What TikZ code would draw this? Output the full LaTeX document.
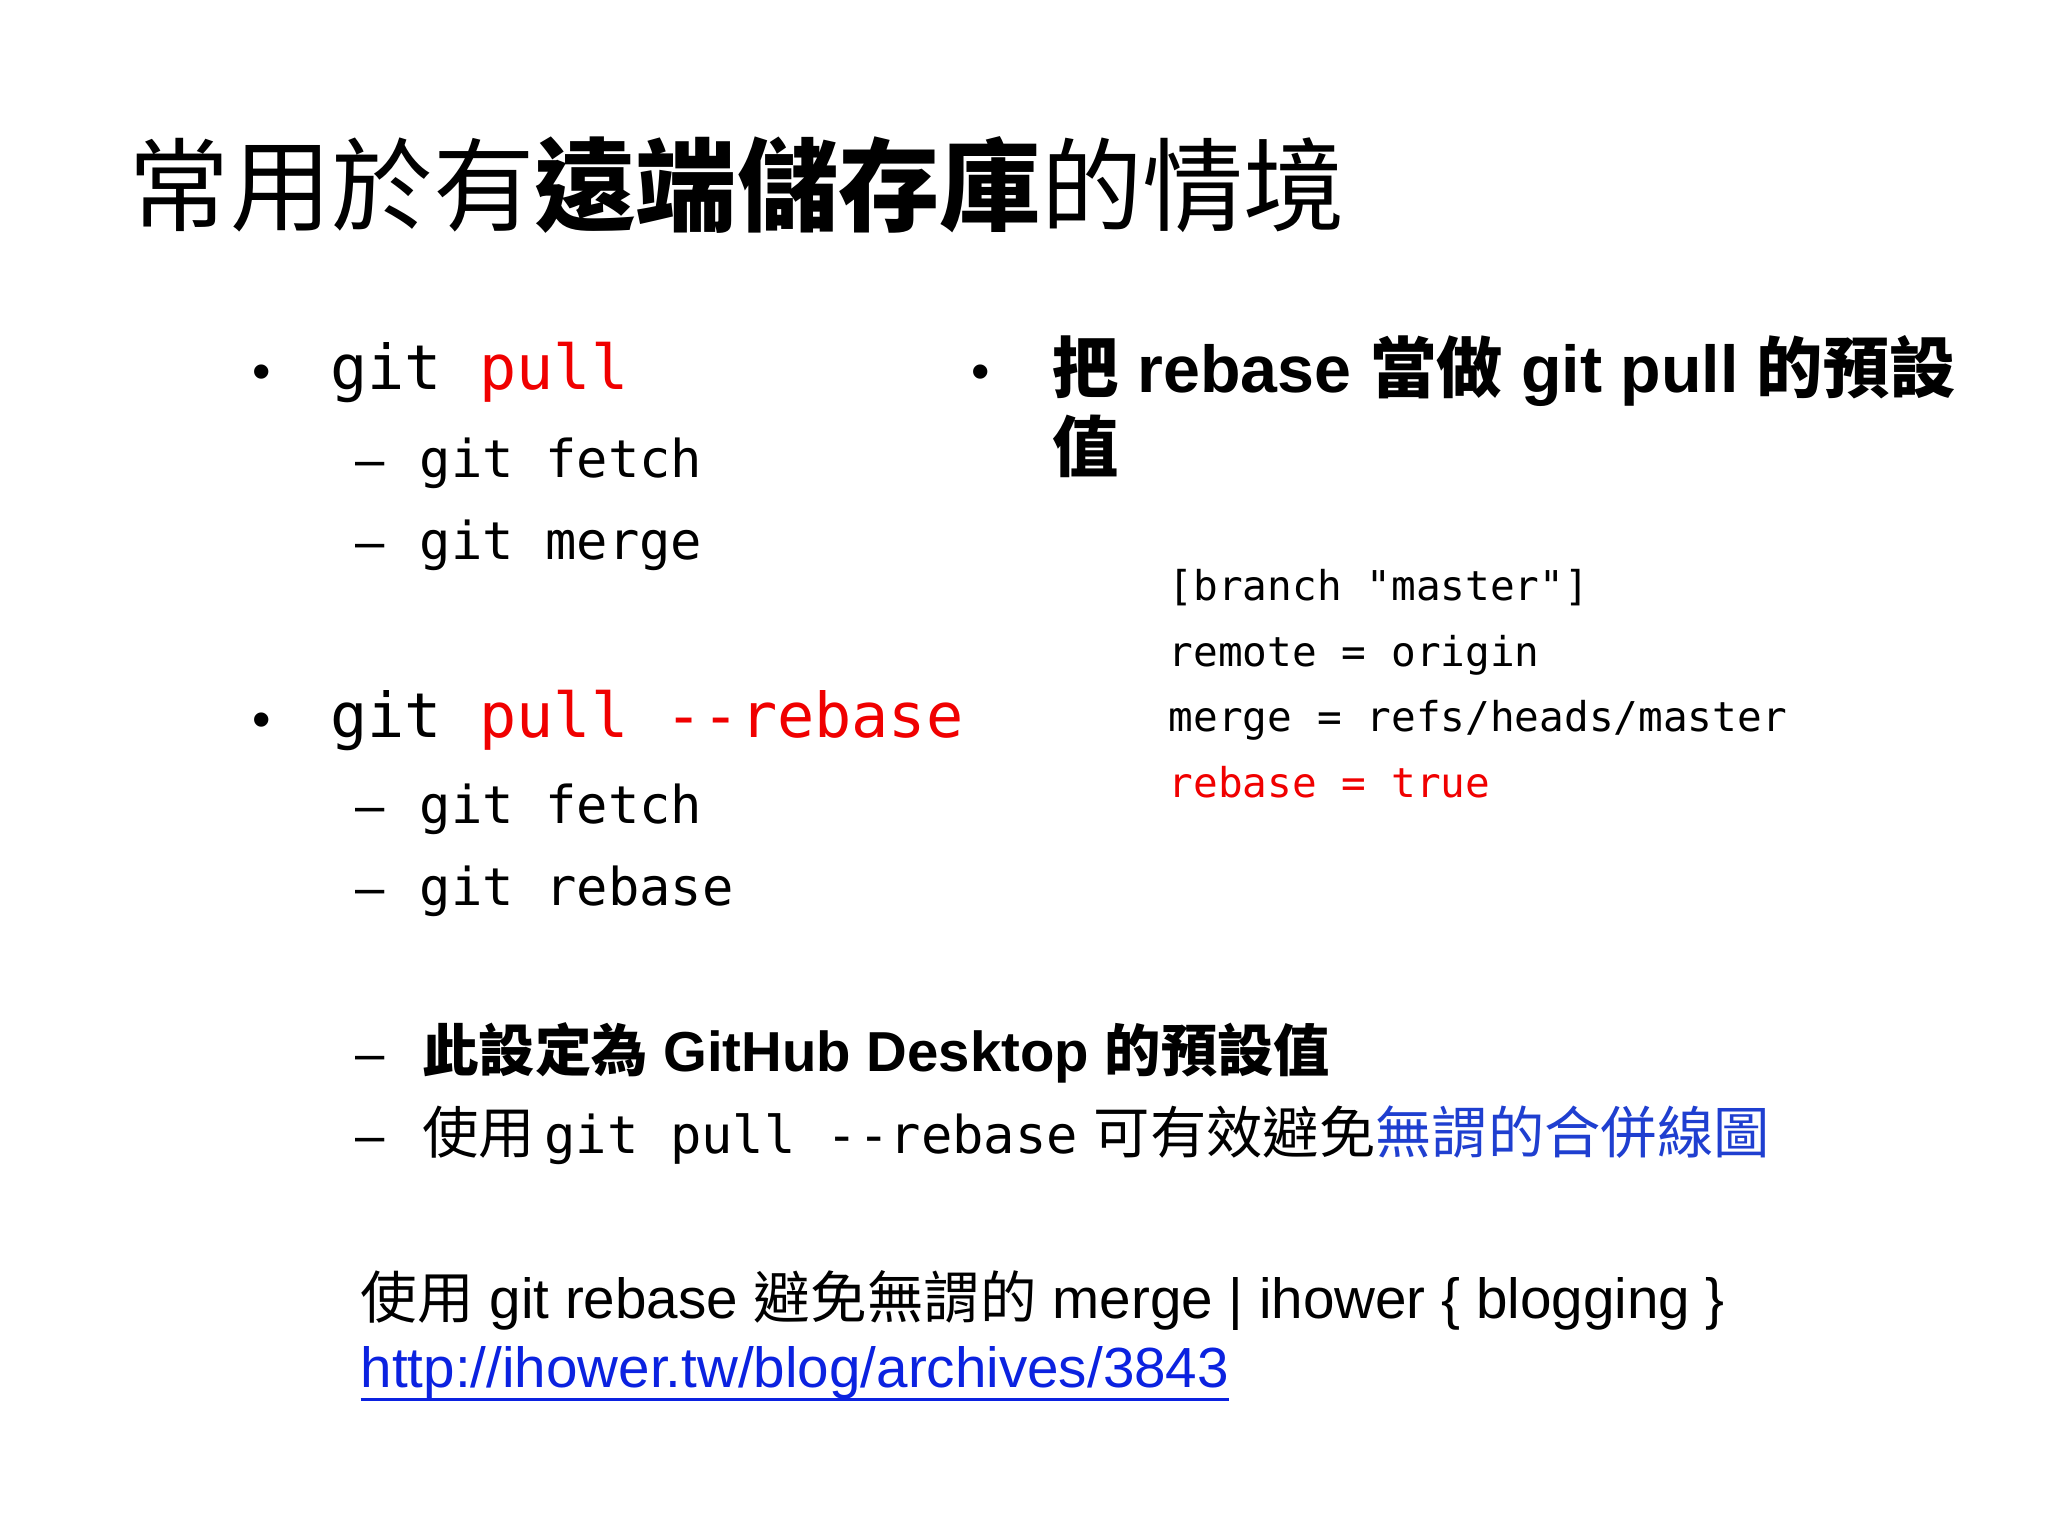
\documentclass[tikz,border=0pt]{standalone}
\usepackage{fontspec}
\setmainfont{Liberation Sans}
\setmonofont{DejaVu Sans Mono}
\newfontfamily\cjk{Noto Sans CJK TC}
\definecolor{myred}{HTML}{F00000}
\definecolor{myblue}{HTML}{1F3FD0}
\definecolor{linkblue}{HTML}{0B22E0}
\newcommand{\C}[1]{{\cjk #1}}
\begin{document}
\begin{tikzpicture}[x=0.5pt,y=-0.5pt,
  t/.style={anchor=base west,inner sep=0pt,outer sep=0pt}]
\useasboundingbox (0,0) rectangle (1556,1167);
\fill[white] (0,0) rectangle (1556,1167);
% title
\node[t,font=\fontsize{38.5}{42}\selectfont] (title) at (98,170) {\C{常用於有\textbf{遠端儲存庫}的情境}};
% left column
\node[t,font=\fontsize{20}{24}\selectfont] (b1) at (192,296) {•};
\node[t,font=\ttfamily\fontsize{23.5}{28}\selectfont] (l1) at (251,296) {git \textcolor{myred}{pull}};
\node[t,font=\fontsize{20}{24}\selectfont] (d1) at (270,363) {–};
\node[t,font=\ttfamily\fontsize{19.8}{24}\selectfont] (l2) at (319,363) {git fetch};
\node[t,font=\fontsize{20}{24}\selectfont] (d2) at (270,425) {–};
\node[t,font=\ttfamily\fontsize{19.8}{24}\selectfont] (l3) at (319,425) {git merge};
\node[t,font=\fontsize{20}{24}\selectfont] (b2) at (192,560) {•};
\node[t,font=\ttfamily\fontsize{23.5}{28}\selectfont] (l4) at (251,560) {git \textcolor{myred}{pull --rebase}};
\node[t,font=\fontsize{20}{24}\selectfont] (d3) at (270,626) {–};
\node[t,font=\ttfamily\fontsize{19.8}{24}\selectfont] (l5) at (319,626) {git fetch};
\node[t,font=\fontsize{20}{24}\selectfont] (d4) at (270,688) {–};
\node[t,font=\ttfamily\fontsize{19.8}{24}\selectfont] (l6) at (319,688) {git rebase};
% right column
\node[t,font=\fontsize{20}{24}\selectfont] (b3) at (738,296) {•};
\node[t,font=\bfseries\fontsize{25.2}{30}\selectfont] (r1) at (800,298) {\C{\textbf{把}} rebase \C{\textbf{當做}} git pull \C{\textbf{的預設}}};
\node[t,font=\bfseries\fontsize{25.2}{30}\selectfont] (r2) at (800,358) {\C{\textbf{值}}};
\node[t,font=\ttfamily\fontsize{15.6}{20}\selectfont] (c1) at (888,456) {[branch "master"]};
\node[t,font=\ttfamily\fontsize{15.6}{20}\selectfont] (c2) at (888,506) {remote = origin};
\node[t,font=\ttfamily\fontsize{15.6}{20}\selectfont] (c3) at (888,556) {merge = refs/heads/master};
\node[t,font=\ttfamily\fontsize{15.6}{20}\selectfont,text=myred] (c4) at (888,606) {rebase = true};
% bottom
\node[t,font=\fontsize{20}{24}\selectfont] (d5) at (270,814) {–};
\node[t,font=\bfseries\fontsize{21.4}{26}\selectfont] (m1) at (321,814) {\C{\textbf{此設定為}} GitHub Desktop \C{\textbf{的預設值}}};
\node[t,font=\fontsize{20}{24}\selectfont] (d6) at (270,876) {–};
\node[t,font=\fontsize{21.4}{26}\selectfont] (m2) at (321,876) {\C{使用}\,{\ttfamily\fontsize{19.8}{24}\selectfont git pull --rebase} \C{可有效避免\textcolor{myblue}{無謂的合併線圖}}};
% reference
\node[t,font=\fontsize{21.5}{26}\selectfont] (ref1) at (274,1002) {\C{使用} git rebase \C{避免無謂的} merge | ihower \{ blogging \}};
\node[t,font=\fontsize{21.5}{26}\selectfont,text=linkblue] (ref2) at (274,1054) {http://ihower.tw/blog/archives/3843};
\draw[linkblue,line width=1.2pt] (ref2.base west)++(0,9) -- ([yshift=-4.5pt]ref2.base east);
\end{tikzpicture}
\end{document}
